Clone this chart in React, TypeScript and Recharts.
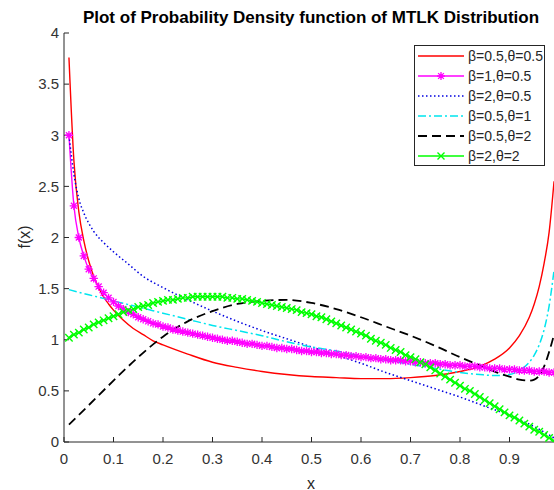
import React from 'react'
import { LineChart, Line, XAxis, YAxis } from 'recharts'

// x grid used by the marker series
const X_GRID = [
  0.01, 0.02, 0.03, 0.04, 0.05, 0.06, 0.07, 0.08, 0.09, 0.1,
  0.11, 0.12, 0.13, 0.14, 0.15, 0.16, 0.17, 0.18, 0.19, 0.2,
  0.21, 0.22, 0.23, 0.24, 0.25, 0.26, 0.27, 0.28, 0.29, 0.3,
  0.31, 0.32, 0.33, 0.34, 0.35, 0.36, 0.37, 0.38, 0.39, 0.4,
  0.41, 0.42, 0.43, 0.44, 0.45, 0.46, 0.47, 0.48, 0.49, 0.5,
  0.51, 0.52, 0.53, 0.54, 0.55, 0.56, 0.57, 0.58, 0.59, 0.6,
  0.61, 0.62, 0.63, 0.64, 0.65, 0.66, 0.67, 0.68, 0.69, 0.7,
  0.71, 0.72, 0.73, 0.74, 0.75, 0.76, 0.77, 0.78, 0.79, 0.8,
  0.81, 0.82, 0.83, 0.84, 0.85, 0.86, 0.87, 0.88, 0.89, 0.9,
  0.91, 0.92, 0.93, 0.94, 0.95, 0.96, 0.97, 0.98, 0.99,
]

// beta=1, theta=0.5 (magenta, stars)
const MAGENTA_Y = [
  3.0, 2.31, 2.0, 1.82, 1.69, 1.6, 1.52, 1.46, 1.41, 1.37,
  1.33, 1.3, 1.27, 1.25, 1.22, 1.2, 1.18, 1.16, 1.15, 1.13,
  1.12, 1.1, 1.09, 1.08, 1.07, 1.06, 1.05, 1.04, 1.03, 1.02,
  1.01, 1.0, 0.99, 0.99, 0.98, 0.97, 0.96, 0.96, 0.95, 0.94,
  0.94, 0.93, 0.92, 0.92, 0.91, 0.91, 0.9, 0.89, 0.89, 0.88,
  0.88, 0.87, 0.87, 0.86, 0.86, 0.85, 0.85, 0.84, 0.84, 0.83,
  0.83, 0.82, 0.82, 0.81, 0.81, 0.8, 0.8, 0.8, 0.79, 0.79,
  0.78, 0.78, 0.77, 0.77, 0.77, 0.76, 0.76, 0.75, 0.75, 0.75,
  0.74, 0.74, 0.74, 0.73, 0.73, 0.72, 0.72, 0.72, 0.71, 0.71,
  0.71, 0.7, 0.7, 0.7, 0.69, 0.69, 0.69, 0.68, 0.68,
]

// beta=2, theta=2 (green, crosses)
const GREEN_Y = [
  1.02, 1.05, 1.07, 1.1, 1.12, 1.15, 1.17, 1.19, 1.21, 1.23,
  1.25, 1.27, 1.29, 1.3, 1.32, 1.33, 1.34, 1.36, 1.37, 1.38,
  1.39, 1.39, 1.4, 1.41, 1.41, 1.42, 1.42, 1.42, 1.42, 1.42,
  1.42, 1.42, 1.41, 1.41, 1.4, 1.4, 1.39, 1.38, 1.37, 1.36,
  1.35, 1.34, 1.33, 1.32, 1.31, 1.3, 1.29, 1.27, 1.26, 1.25,
  1.23, 1.22, 1.2, 1.18, 1.16, 1.14, 1.12, 1.1, 1.08, 1.06,
  1.04, 1.01, 0.99, 0.97, 0.95, 0.92, 0.9, 0.88, 0.85, 0.83,
  0.81, 0.78, 0.76, 0.73, 0.7, 0.67, 0.64, 0.61, 0.58, 0.55,
  0.52, 0.5, 0.47, 0.44, 0.41, 0.38, 0.35, 0.32, 0.29, 0.26,
  0.24, 0.21, 0.18, 0.15, 0.12, 0.1, 0.07, 0.04, 0.01,
]

// beta=0.5, theta=0.5 (red solid)
const RED_X = [0.01, 0.02, 0.03, 0.04, 0.05, 0.06, 0.07, 0.08, 0.09, 0.1, 0.12, 0.14, 0.16, 0.18, 0.2, 0.25, 0.3, 0.35, 0.4, 0.45, 0.5, 0.55, 0.6, 0.65, 0.7, 0.75, 0.8, 0.84, 0.87, 0.9, 0.92, 0.94, 0.95, 0.96, 0.97, 0.98, 0.99]
const RED_Y = [3.76, 2.75, 2.25, 1.97, 1.77, 1.62, 1.51, 1.42, 1.35, 1.29, 1.19, 1.11, 1.05, 0.99, 0.95, 0.86, 0.78, 0.73, 0.69, 0.66, 0.64, 0.63, 0.62, 0.62, 0.63, 0.65, 0.69, 0.74, 0.81, 0.92, 1.04, 1.22, 1.35, 1.52, 1.75, 2.05, 2.55]

// beta=2, theta=0.5 (blue dotted)
const BLUE_X = [0.01, 0.02, 0.03, 0.04, 0.05, 0.06, 0.08, 0.1, 0.13, 0.16, 0.2, 0.25, 0.3, 0.35, 0.4, 0.45, 0.5, 0.55, 0.6, 0.65, 0.7, 0.75, 0.8, 0.85, 0.9, 0.95, 0.99]
const BLUE_Y = [3.0, 2.62, 2.38, 2.24, 2.14, 2.06, 1.95, 1.86, 1.74, 1.62, 1.51, 1.39, 1.28, 1.18, 1.09, 1.01, 0.93, 0.85, 0.77, 0.68, 0.6, 0.52, 0.44, 0.35, 0.26, 0.15, 0.04]

// beta=0.5, theta=1 (cyan dash-dot)
const CYAN_X = [0.01, 0.05, 0.1, 0.15, 0.2, 0.25, 0.3, 0.35, 0.4, 0.45, 0.5, 0.55, 0.6, 0.65, 0.7, 0.75, 0.8, 0.84, 0.87, 0.9, 0.92, 0.94, 0.95, 0.96, 0.97, 0.98, 0.99]
const CYAN_Y = [1.49, 1.44, 1.38, 1.32, 1.26, 1.2, 1.14, 1.09, 1.04, 0.98, 0.93, 0.89, 0.84, 0.8, 0.76, 0.72, 0.68, 0.66, 0.65, 0.66, 0.7, 0.78, 0.85, 0.95, 1.1, 1.33, 1.68]

// beta=0.5, theta=2 (black dashed)
const BLACK_X = [0.01, 0.05, 0.1, 0.15, 0.2, 0.25, 0.3, 0.35, 0.4, 0.45, 0.5, 0.55, 0.6, 0.65, 0.7, 0.75, 0.8, 0.85, 0.88, 0.9, 0.92, 0.94, 0.95, 0.96, 0.97, 0.98, 0.99]
const BLACK_Y = [0.17, 0.36, 0.6, 0.83, 1.03, 1.18, 1.28, 1.35, 1.38, 1.39, 1.36, 1.3, 1.22, 1.13, 1.04, 0.94, 0.83, 0.73, 0.67, 0.64, 0.61, 0.6, 0.61, 0.65, 0.74, 0.88, 1.05]

// the plot runs to x = 1 but the picture is cropped just before it
const X_TICKS = [0, 0.1, 0.2, 0.3, 0.4, 0.5, 0.6, 0.7, 0.8, 0.9]
const Y_TICKS = [0, 0.5, 1, 1.5, 2, 2.5, 3, 3.5, 4]

const TITLE = 'Plot of Probability Density function of MTLK Distribution'

const zip = (xs: number[], ys: number[]) => xs.map((x, i) => ({ x, y: ys[i] }))

const FONT = '"Liberation Sans", Arial, sans-serif'
const AXIS = '#262626'

const starPath = (cx: number, cy: number, r: number) => {
  const d = r * 0.72
  return `M${cx - r},${cy}L${cx + r},${cy}M${cx},${cy - r}L${cx},${cy + r}M${cx - d},${cy - d}L${cx + d},${cy + d}M${cx - d},${cy + d}L${cx + d},${cy - d}`
}
const crossPath = (cx: number, cy: number, r: number) =>
  `M${cx - r},${cy - r}L${cx + r},${cy + r}M${cx - r},${cy + r}L${cx + r},${cy - r}`

const StarDot = (props: any) => {
  const { cx, cy } = props
  if (cx == null || cy == null) return <g />
  return <path d={starPath(cx, cy, 4.2)} stroke="#FF00FF" strokeWidth={1.3} fill="none" />
}
const CrossDot = (props: any) => {
  const { cx, cy } = props
  if (cx == null || cy == null) return <g />
  return <path d={crossPath(cx, cy, 3.7)} stroke="#00FF00" strokeWidth={1.4} fill="none" />
}

const SERIES = [
  { name: 'β=0.5,θ=0.5', data: zip(RED_X, RED_Y), color: '#FF0000', dash: undefined, width: 1.4, marker: null },
  { name: 'β=1,θ=0.5', data: zip(X_GRID, MAGENTA_Y), color: '#FF00FF', dash: undefined, width: 1.4, marker: 'star' },
  { name: 'β=2,θ=0.5', data: zip(BLUE_X, BLUE_Y), color: '#0000E0', dash: '1.5 2.5', width: 1.5, marker: null },
  { name: 'β=0.5,θ=1', data: zip(CYAN_X, CYAN_Y), color: '#00E5EE', dash: '8 3 2 3', width: 1.5, marker: null },
  { name: 'β=0.5,θ=2', data: zip(BLACK_X, BLACK_Y), color: '#000000', dash: '9 5', width: 1.8, marker: null },
  { name: 'β=2,θ=2', data: zip(X_GRID, GREEN_Y), color: '#00FF00', dash: undefined, width: 1.4, marker: 'cross' },
]

const fmtTick = (v: number) => (v === 0 ? '0' : String(v))

function LegendBox() {
  return (
    <div
      style={{
        position: 'absolute',
        left: 414,
        top: 45,
        width: 131,
        height: 121,
        border: '1px solid #262626',
        background: '#fff',
        fontFamily: FONT,
        fontSize: 14,
        color: '#262626',
        boxSizing: 'border-box',
      }}
    >
      {SERIES.map((s) => (
        <div key={s.name} style={{ display: 'flex', alignItems: 'center', height: 20, paddingLeft: 3 }}>
          <svg width={46} height={20} style={{ display: 'block' }}>
            <line x1={0} x2={46} y1={10} y2={10} stroke={s.color} strokeWidth={s.width} strokeDasharray={s.dash} />
            {s.marker === 'star' && <path d={starPath(23, 10, 4)} stroke={s.color} strokeWidth={1.3} fill="none" />}
            {s.marker === 'cross' && <path d={crossPath(23, 10, 3.5)} stroke={s.color} strokeWidth={1.4} fill="none" />}
          </svg>
          <span style={{ marginLeft: 4, whiteSpace: 'nowrap' }}>{s.name}</span>
        </div>
      ))}
    </div>
  )
}

export default function App() {
  return (
    <div
      style={{
        position: 'absolute',
        left: 0,
        top: 0,
        width: 554,
        height: 490,
        overflow: 'hidden',
        background: '#fff',
      }}
    >
      <LineChart width={600} height={490} margin={{ top: 33, right: 41, bottom: 0, left: 0 }}>
        <XAxis
          xAxisId="top"
          orientation="top"
          type="number"
          dataKey="x"
          domain={[0, 1]}
          ticks={X_TICKS}
          height={0}
          tickSize={-5}
          tickFormatter={() => ''}
          stroke={AXIS}
          allowDataOverflow
        />
        <XAxis
          type="number"
          dataKey="x"
          domain={[0, 1]}
          ticks={X_TICKS}
          height={48}
          tickSize={-5}
          tickMargin={16}
          tickFormatter={fmtTick}
          tick={{ fill: '#333', fontSize: 15, fontFamily: FONT }}
          stroke={AXIS}
          allowDataOverflow
        />
        <YAxis
          type="number"
          domain={[0, 4]}
          ticks={Y_TICKS}
          width={64}
          tickSize={-5}
          tickMargin={10}
          tick={{ fill: '#333', fontSize: 15, fontFamily: FONT }}
          stroke={AXIS}
          allowDataOverflow
        />
        {SERIES.map((s) => (
          <Line
            key={s.name}
            data={s.data}
            dataKey="y"
            name={s.name}
            type="monotone"
            stroke={s.color}
            strokeWidth={s.width}
            strokeDasharray={s.dash}
            dot={s.marker === 'star' ? StarDot : s.marker === 'cross' ? CrossDot : false}
            activeDot={false}
            isAnimationActive={false}
          />
        ))}
        <text x={311} y={17} textAnchor="middle" dominantBaseline="central" fontFamily={FONT} fontSize={17} fontWeight="bold" fill="#000">
          {TITLE}
        </text>
        <text x={311} y={483} textAnchor="middle" dominantBaseline="central" fontFamily={FONT} fontSize={16} fill="#262626">
          x
        </text>
        <text
          x={24}
          y={237}
          textAnchor="middle"
          dominantBaseline="central"
          fontFamily={FONT}
          fontSize={16}
          fill="#262626"
          transform="rotate(-90 24 237)"
        >
          f(x)
        </text>
      </LineChart>
      <LegendBox />
    </div>
  )
}
